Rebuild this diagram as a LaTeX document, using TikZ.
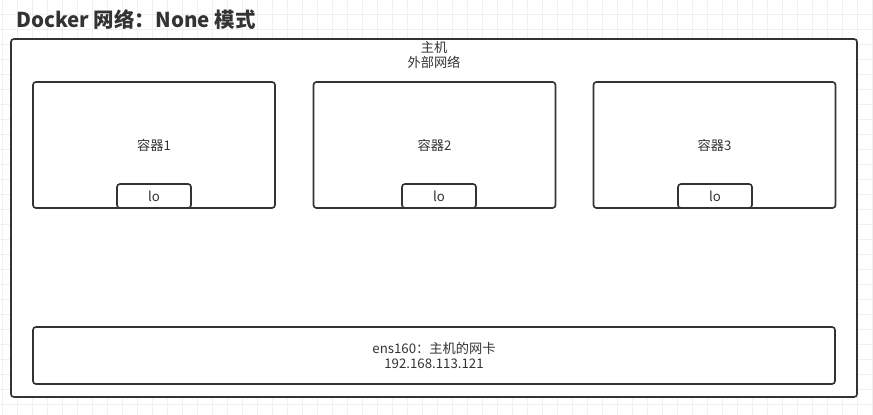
\documentclass[tikz,border=0pt]{standalone}
\usepackage{fontspec}
\setmainfont{Noto Sans CJK SC}
\usepackage{tikz}
\usetikzlibrary{positioning}
\definecolor{boxLine}{RGB}{51,51,51}
\definecolor{gridGray}{RGB}{240,240,240}

\begin{document}
\begin{tikzpicture}[x=0.03cm, y=-0.03cm,
  every node/.style={font=\fontsize{11.3}{13.6}\selectfont, text=boxLine},
  box/.style={draw=boxLine, line width=1.4pt, rounded corners=2.5pt, fill=white},
  ctr/.style={box, minimum width=7.26cm, minimum height=3.78cm},
  lobox/.style={box, minimum width=2.22cm, minimum height=0.72cm}]
  \useasboundingbox (0,0) rectangle (873,414);
  \fill[white] (0,0) rectangle (873,414);
  \draw[gridGray, line width=0.4pt, step=0.45cm, xshift=0.06cm, yshift=0.03cm] (-15,-15) grid (890,430);
  % Title
  \node[anchor=west, font=\fontsize{17.5}{20}\selectfont\bfseries] (title) at (12,20) {Docker 网络：None 模式};
  % Host
  \node[box, minimum width=25.38cm, minimum height=10.74cm] (host) at (434,218) {};
  \node[align=center, inner sep=0pt] (hostlbl) at (434,55) {主机\\[-1pt]外部网络};
  % Containers
  \node[ctr] (c1) at (154,145) {容器1};
  \node[ctr] (c2) at (434.5,145) {容器2};
  \node[ctr] (c3) at (714.5,145) {容器3};
  \node[lobox] (lo1) at (154,196) {lo};
  \node[lobox] (lo2) at (439,196) {lo};
  \node[lobox] (lo3) at (715,196) {lo};
  % NIC
  \node[box, minimum width=24.06cm, minimum height=1.71cm, align=center] (nic) at (434,355.5) {ens160：主机的网卡\\[-1pt]192.168.113.121};
\end{tikzpicture}
\end{document}
